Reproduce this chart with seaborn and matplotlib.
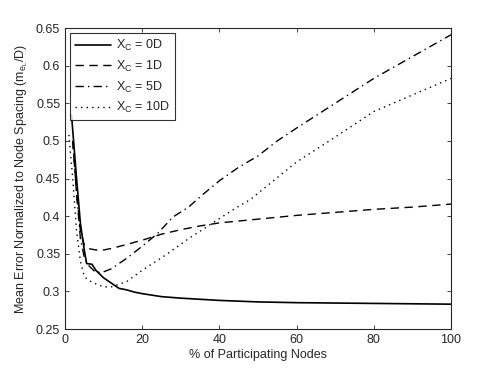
import numpy as np
import pandas as pd
import matplotlib
matplotlib.use("Agg")
import matplotlib.pyplot as plt
import seaborn as sns

labels = ["0D", "1D", "5D", "10D"]

x0 = [1.7, 3, 4, 5, 5.6, 7, 8, 10, 12, 14, 16, 18, 20, 25, 30, 40, 50, 60, 80, 100]
y0 = [0.534, 0.45, 0.39, 0.355, 0.337, 0.336, 0.328, 0.318, 0.311, 0.304, 0.302, 0.299, 0.297, 0.293, 0.291, 0.288, 0.286, 0.285, 0.284, 0.283]

x1 = [2, 3, 4, 5, 6, 8, 10, 12, 15, 20, 25, 30, 35, 40, 50, 60, 70, 80, 90, 100]
y1 = [0.50, 0.43, 0.38, 0.362, 0.357, 0.355, 0.355, 0.357, 0.361, 0.368, 0.376, 0.382, 0.387, 0.391, 0.396, 0.401, 0.405, 0.409, 0.412, 0.416]

x2 = [2, 3, 4, 5, 6, 8, 10, 12, 16, 20, 24, 28, 32, 36, 40, 45, 50, 55, 60, 70, 80, 90, 100]
y2 = [0.50, 0.43, 0.37, 0.345, 0.335, 0.325, 0.326, 0.330, 0.344, 0.360, 0.377, 0.399, 0.412, 0.430, 0.447, 0.465, 0.480, 0.500, 0.517, 0.550, 0.583, 0.612, 0.641]

x3 = [1, 2, 3, 4, 5, 6, 8, 10, 12, 16, 20, 26, 32, 38, 44, 48, 54, 60, 70, 80, 90, 100]
y3 = [0.508, 0.45, 0.38, 0.34, 0.32, 0.315, 0.310, 0.306, 0.306, 0.313, 0.328, 0.348, 0.370, 0.390, 0.410, 0.422, 0.447, 0.472, 0.505, 0.539, 0.561, 0.583]

xs = [x0, x1, x2, x3]
ys = [y0, y1, y2, y3]

frames = []
for lab, xv, yv in zip(labels, xs, ys):
    frames.append(pd.DataFrame({"x": xv, "y": yv, "series": lab}))
df = pd.concat(frames, ignore_index=True)

sns.set_style("ticks")
plt.rcParams["font.family"] = ["Liberation Sans", "DejaVu Sans"]
plt.rcParams["mathtext.fontset"] = "custom"
plt.rcParams["mathtext.rm"] = "Liberation Sans"
plt.rcParams["mathtext.it"] = "Liberation Sans"

fig = plt.figure(figsize=(4.98, 3.71), dpi=100)
ax = fig.add_axes([0.1305, 0.1132, 0.7751, 0.8113])

styles = {"0D": "-", "1D": (0, (6, 4)), "5D": (0, (6, 3, 1, 3)), "10D": (0, (1, 3))}
for lab in labels:
    sub = df[df["series"] == lab]
    sns.lineplot(data=sub, x="x", y="y", ax=ax, color="black",
                 linewidth=1.2 if lab == "0D" else 1.0,
                 linestyle=styles[lab], label=r"X$_\mathregular{C}$ = " + lab,
                 estimator=None, sort=False)

ax.set_xlim(0, 100)
ax.set_ylim(0.25, 0.65)
ax.set_xticks([0, 20, 40, 60, 80, 100])
yt = [0.25, 0.3, 0.35, 0.4, 0.45, 0.5, 0.55, 0.6, 0.65]
ax.set_yticks(yt)
ax.set_yticklabels([("%g" % v) for v in yt])
ax.tick_params(direction="in", top=True, right=True, labelsize=9, length=3, width=0.6)
for s in ax.spines.values():
    s.set_linewidth(0.8)
ax.set_xlabel("% of Participating Nodes", fontsize=9, labelpad=2)
ax.set_ylabel(r"Mean Error Normalized to Node Spacing (m$_{\mathregular{e}_\mathregular{L}}$/D)", fontsize=9, labelpad=4)

leg = ax.legend(loc="upper left", fontsize=9, frameon=True, fancybox=False,
                edgecolor="black", handlelength=2.9, borderaxespad=0.4,
                labelspacing=0.45, handletextpad=0.4)
leg.get_frame().set_linewidth(0.8)

fig.savefig("out.png", dpi=100)
